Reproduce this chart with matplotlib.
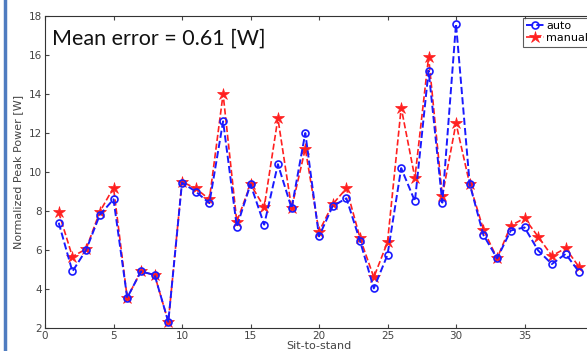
import numpy as np
import matplotlib
matplotlib.use('Agg')
import matplotlib.pyplot as plt
from matplotlib.lines import Line2D

trial = np.arange(1, 40)

auto = [7.4, 4.9, 6.0, 7.8, 8.6, 3.55, 4.9, 4.72, 2.32, 9.45,
        9.0, 8.4, 12.6, 7.2, 9.37, 7.3, 10.4, 8.14, 12.0, 6.7,
        8.25, 8.65, 6.45, 4.03, 5.75, 10.2, 8.5, 15.2, 8.43, 17.6,
        9.38, 6.77, 5.57, 7.0, 7.16, 5.97, 5.28, 5.8, 4.86]

manual = [7.93, 5.66, 6.05, 7.96, 9.2, 3.55, 4.9, 4.72, 2.32, 9.5,
          9.16, 8.6, 14.0, 7.45, 9.37, 8.2, 12.75, 8.14, 11.2, 6.94,
          8.35, 9.16, 6.6, 4.6, 6.4, 13.3, 9.7, 15.9, 8.77, 12.5,
          9.38, 7.05, 5.57, 7.25, 7.63, 6.68, 5.7, 6.09, 5.11]

x_ticks = np.arange(0, 40, 5)
y_ticks = np.arange(2, 20, 2)
annotation = 'Mean error = 0.61 [W]'

# ....... Figure ........
fig = plt.figure(figsize=(5.87, 3.51), dpi=100)
ax = fig.add_axes([45 / 587, 1 - 328 / 351, 548 / 587, 312 / 351])

ax.plot(trial, auto, linestyle='--', color='#1a1aff', linewidth=1.4,
        marker='o', markersize=5, markerfacecolor='none',
        markeredgewidth=1.2, label='auto', zorder=3)
ax.plot(trial, manual, linestyle='--', color='#ff2020', linewidth=1.2,
        marker='*', markersize=9, markeredgewidth=0.5,
        label='manual', zorder=2)

ax.set_xlim(0, 40)
ax.set_ylim(2, 18)
ax.set_xticks(x_ticks)
ax.set_yticks(y_ticks)

# --- MATLAB style box and ticks
ax.tick_params(direction='in', top=True, right=True, length=3,
               labelsize=7.5, colors='#444444', pad=2)
for spine in ax.spines.values():
    spine.set_color('#333333')
    spine.set_linewidth(0.8)

ax.set_xlabel('Sit-to-stand', fontsize=8, color='#444444', labelpad=0)
ax.set_ylabel('Normalized Peak Power [W]', fontsize=8, color='#444444',
              labelpad=4)

ax.text(0.012, 0.96, annotation, transform=ax.transAxes, fontsize=15.5,
        family='Lato', ha='left', va='top', color='#111111')

leg = ax.legend(loc='upper right', fontsize=8, frameon=True, fancybox=False,
                borderaxespad=0.15, handlelength=1.6, handletextpad=0.2,
                borderpad=0.3, labelspacing=0.2)
leg.get_frame().set_edgecolor('#333333')
leg.get_frame().set_linewidth(0.8)

# blue page frame on the left edge
fig.add_artist(Line2D([5 / 587, 5 / 587], [0, 1], transform=fig.transFigure,
                      color='#4f7cc0', linewidth=2.5))

fig.savefig('out.png', dpi=100)
